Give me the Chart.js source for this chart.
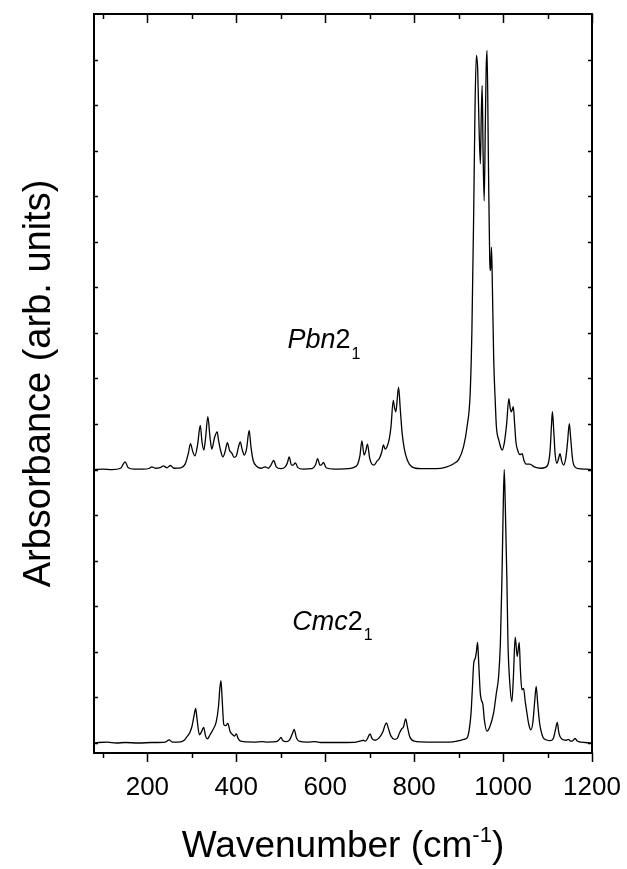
<!DOCTYPE html>
<html>
<head>
<meta charset="utf-8">
<script src="https://cdn.jsdelivr.net/npm/chart.js@4.4.1/dist/chart.umd.min.js"></script>
<style>
  html, body { margin: 0; padding: 0; background: #fff; }
  canvas { display: block; }
</style>
</head>
<body>
<canvas id="myChart" width="627" height="869"></canvas>
<script>
// Pbn2_1 spectrum (upper trace, offset already included)
const pbnX = [80,100,120,140,150,157,170,190,205,210,218,230,236,244,252,260,275,285,292,297,302,307,313,319,323,327,331,336,341,345,351,357,360,364,370,375,380,385,390,395,400,405,409,413,418,423,429,433,438,445,455,465,472,478,484,490,500,510,515,519,524,528,533,538,550,570,578,583,588,591,596,602,620,650,665,673,678,682.5,687.5,691,695,700,705,710,716,722,727,731,735,739,744,748,753,756,759,762,765,769,773,778,785,795,815,850,870,889,900,911,919,926,930,934,937,940,943,946,949,951,953,955,957.5,960,962,964,967,970,972,974,976,979,982.6,985,990.6,995,998,1003,1008,1013,1016,1018.5,1021,1023,1026,1029,1033,1038,1043,1047,1052,1060,1070,1085,1095,1102,1106,1109,1111,1114,1117,1121,1125,1128,1132,1136,1141,1145,1149,1152,1156,1160,1170,1185,1200]
const pbnY = [6.0,6.01,6.0,6.03,6.17,6.04,6.01,6.01,6.03,6.06,6.03,6.05,6.08,6.04,6.09,6.03,6.04,6.12,6.35,6.57,6.4,6.3,6.55,6.97,6.6,6.43,6.7,7.16,6.7,6.45,6.7,6.83,6.65,6.45,6.28,6.4,6.59,6.42,6.36,6.27,6.3,6.5,6.61,6.45,6.32,6.45,6.86,6.5,6.2,6.08,6.03,6.06,6.03,6.1,6.2,6.06,6.02,6.06,6.15,6.28,6.1,6.1,6.15,6.05,6.01,6.02,6.1,6.24,6.1,6.1,6.16,6.04,6.01,6.02,6.05,6.12,6.3,6.63,6.32,6.4,6.56,6.25,6.12,6.1,6.18,6.25,6.38,6.54,6.45,6.5,6.67,6.95,7.52,7.35,7.27,7.55,7.81,7.3,6.8,6.45,6.2,6.06,6.02,6.02,6.05,6.13,6.22,6.5,6.94,7.67,9.1,11.7,14.0,15.09,14.76,13.5,12.71,13.8,14.43,13.0,11.9,13.5,14.8,15.2,12.8,10.6,10.37,10.88,10.0,8.4,7.45,6.94,6.64,6.48,6.43,6.6,7.0,7.56,7.35,7.27,7.32,7.38,7.0,6.6,6.42,6.33,6.35,6.2,6.12,6.12,6.06,6.03,6.05,6.15,6.45,7.0,7.27,6.85,6.35,6.14,6.25,6.35,6.18,6.1,6.25,6.6,7.01,6.7,6.25,6.08,6.02,6.01,6.0]

// Cmc2_1 spectrum (lower trace)
const cmcX = [80,90,110,130,150,180,210,240,249,256,270,283,290,295,300,305,308.6,312,317,322,326.6,331,335,341,348,355,360,363,365.6,368,372,376,381,386,390,396,400,404,410,440,459,470,490,496,500.4,505,512,520,526,530.3,535,541,560,577,590,640,670,682,686,690,694,698,701,705,712,720,730,734,738,742,748,756,762,767,772,776,781,785,790,800,830,880,900,912,919,924,928,931,934,937.5,940,942.7,945,948.7,951,954.7,958,963.7,970,978.7,985,990,994,997.4,1000,1002.6,1005,1008.6,1011,1014.6,1019.8,1023,1027.3,1031.8,1036.3,1039,1042.3,1046,1050,1053.6,1058,1062.5,1067,1071,1074.5,1078,1082,1085,1090,1097,1105.6,1113,1118,1122,1125,1128,1135.6,1142,1146.8,1152,1157,1162,1166,1170,1185,1200]
const cmcY = [0.0,0.01,0.02,0.0,0.01,0.0,0.01,0.02,0.07,0.02,0.02,0.06,0.15,0.22,0.35,0.6,0.76,0.5,0.18,0.25,0.34,0.15,0.09,0.18,0.3,0.47,0.8,1.2,1.37,1.0,0.4,0.38,0.43,0.25,0.2,0.15,0.2,0.1,0.04,0.02,0.03,0.02,0.03,0.07,0.12,0.05,0.03,0.07,0.2,0.3,0.12,0.04,0.02,0.03,0.01,0.01,0.02,0.05,0.06,0.04,0.08,0.16,0.2,0.1,0.06,0.1,0.25,0.38,0.44,0.32,0.15,0.08,0.1,0.22,0.31,0.35,0.53,0.35,0.14,0.04,0.02,0.02,0.05,0.08,0.11,0.3,0.66,1.2,1.75,1.86,2.0,2.21,1.8,1.1,0.95,0.84,0.5,0.26,0.35,0.66,1.1,1.46,2.2,3.58,5.0,6.0,5.2,3.58,2.2,1.39,0.91,1.4,2.32,1.9,2.21,1.6,1.17,1.2,0.9,0.66,0.4,0.29,0.45,0.9,1.24,0.85,0.45,0.28,0.12,0.07,0.05,0.1,0.3,0.45,0.25,0.14,0.07,0.06,0.08,0.04,0.05,0.1,0.05,0.03,0.01,0.0]

// axis ticks
const xTickLabels = [200,400,600,800,1000,1200]
const xMinorTicks = [100,300,500,700,900,1100]
const yTicks = [0,1,2,3,4,5,6,7,8,9,10,11,12,13,14,15]

const fontFam = "'Liberation Sans', Arial, Helvetica, sans-serif"

function toPoints(xs, ys) {
    return xs.map((v, i) => ({x: v, y: ys[i]}))
}

// frame + ticks (bottom ticks outward, the rest inward)
const frameTicks = {
    id: 'frameTicks',
    afterDraw(chart) {
        const ctx = chart.ctx
        const {left, right, top, bottom} = chart.chartArea
        const x = chart.scales.x, y = chart.scales.y
        ctx.save()
        ctx.strokeStyle = '#000'
        ctx.lineWidth = 1.5
        ctx.beginPath()
        xTickLabels.concat(xMinorTicks).forEach(v => {
            const px = Math.round(x.getPixelForValue(v)) + 0.5
            const len = xTickLabels.includes(v) ? 9 : 5
            ctx.moveTo(px, bottom); ctx.lineTo(px, bottom + len)
            ctx.moveTo(px, top); ctx.lineTo(px, top + len)
        })
        yTicks.forEach(v => {
            const py = Math.round(y.getPixelForValue(v)) + 0.5
            ctx.moveTo(left, py); ctx.lineTo(left + 4, py)
            ctx.moveTo(right - 4, py); ctx.lineTo(right, py)
        })
        ctx.stroke()
        ctx.lineWidth = 2
        ctx.strokeRect(left, top, right - left, bottom - top)
        ctx.restore()
    }
}

// x title with superscript, and the two phase labels
const extraText = {
    id: 'extraText',
    afterDraw(chart) {
        const ctx = chart.ctx
        const {left, right} = chart.chartArea
        const x = chart.scales.x, y = chart.scales.y
        ctx.save()
        ctx.fillStyle = '#000'
        ctx.textBaseline = 'alphabetic'
        ctx.textAlign = 'left'

        // Wavenumber (cm-1)
        const big = '37px ' + fontFam, sup = '22px ' + fontFam
        ctx.font = big
        const t1 = 'Wavenumber (cm', t3 = ')'
        const w1 = ctx.measureText(t1).width, w3 = ctx.measureText(t3).width
        ctx.font = sup
        const w2 = ctx.measureText('-1').width
        let sx = (left + right) / 2 - (w1 + w2 + w3) / 2
        const by = 857
        ctx.font = big; ctx.fillText(t1, sx, by); sx += w1
        ctx.font = sup; ctx.fillText('-1', sx, by - 15); sx += w2
        ctx.font = big; ctx.fillText(t3, sx, by)

        // phase labels: italic letters, upright 2, subscript 1
        function phase(letters, wx, wy, subDrop) {
            let px = x.getPixelForValue(wx)
            const py = y.getPixelForValue(wy)
            ctx.font = 'italic 27px ' + fontFam
            ctx.fillText(letters, px, py); px += ctx.measureText(letters).width
            ctx.font = '27px ' + fontFam
            ctx.fillText('2', px, py); px += ctx.measureText('2').width + 1
            ctx.font = '16px ' + fontFam
            ctx.fillText('1', px, py + subDrop)
        }
        phase('Pbn', 515, 8.68, 11)
        phase('Cmc', 526, 2.48, 10)
        ctx.restore()
    }
}

const ctx = document.getElementById('myChart').getContext('2d')
const myChart = new Chart(ctx, {
    type: 'line',
    data: {
        datasets: [{
            label: 'Pbn21',
            data: toPoints(pbnX, pbnY),
            borderColor: '#000',
            borderWidth: 1.3,
            pointRadius: 0,
            fill: false,
            cubicInterpolationMode: 'monotone'
        }, {
            label: 'Cmc21',
            data: toPoints(cmcX, cmcY),
            borderColor: '#000',
            borderWidth: 1.3,
            pointRadius: 0,
            fill: false,
            cubicInterpolationMode: 'monotone'
        }]
    },
    options: {
        responsive: false,
        animation: false,
        devicePixelRatio: 1,
        layout: { padding: { left: 0, right: 35, top: 14, bottom: 0 } },
        plugins: { legend: { display: false }, tooltip: { enabled: false } },
        scales: {
            x: {
                type: 'linear',
                min: 80,
                max: 1200,
                grid: { display: false, drawTicks: false },
                border: { display: false },
                afterBuildTicks: (s) => { s.ticks = xTickLabels.map(v => ({value: v})) },
                afterFit: (s) => { s.height = 116; s.paddingLeft = 0; s.paddingRight = 0 },
                ticks: {
                    color: '#000',
                    font: { family: fontFam, size: 26 },
                    padding: 19,
                    maxRotation: 0,
                    autoSkip: false,
                    callback: (v) => String(v)
                }
            },
            y: {
                type: 'linear',
                min: -0.22,
                max: 16,
                grid: { display: false, drawTicks: false },
                border: { display: false },
                afterFit: (s) => { s.width = 94; s.paddingTop = 0; s.paddingBottom = 0 },
                ticks: { display: false },
                title: {
                    display: true,
                    text: 'Arbsorbance (arb. units)',
                    color: '#000',
                    font: { family: fontFam, size: 38 },
                    padding: { top: 17, bottom: 0 }
                }
            }
        }
    },
    plugins: [frameTicks, extraText]
})
</script>
</body>
</html>
